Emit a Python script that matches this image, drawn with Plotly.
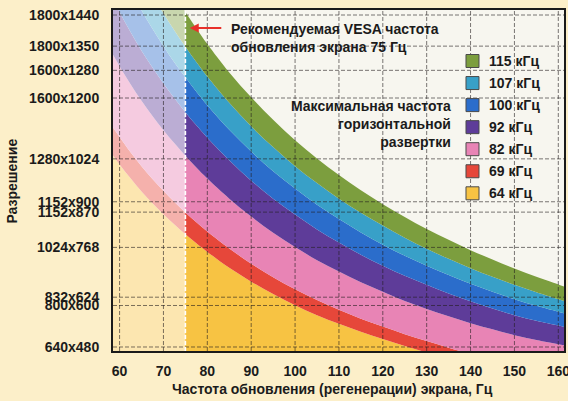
import plotly.graph_objects as go

# ---- data ----
refresh_hz = [58, 60, 62.5, 65, 67.5, 70, 72.5, 75, 77.5, 80, 85, 90, 95, 100, 105, 110,
              115, 120, 125, 130, 135, 140, 145, 150, 155, 160, 162]

lines_64 = [1043, 1008, 968, 930, 896, 864, 834, 806, 780, 755, 709, 669, 633, 601, 572, 547,
            524, 503, 483, 464, 446, 429, 414, 399, 385, 372, 367]
lines_69 = [1124, 1087, 1043, 1003, 966, 932, 899, 869, 841, 814, 765, 721, 682, 647, 616, 588,
            562, 539, 517, 497, 478, 460, 444, 428, 414, 401, 395]
lines_82 = [1336, 1292, 1240, 1192, 1148, 1107, 1069, 1033, 999, 967, 909, 857, 810, 769, 731, 698,
            667, 640, 613, 590, 569, 549, 531, 514, 500, 488, 483]
lines_92 = [1499, 1449, 1391, 1337, 1288, 1242, 1199, 1159, 1121, 1085, 1020, 961, 909, 863, 820, 782,
            747, 715, 686, 660, 635, 612, 591, 572, 556, 542, 536]
lines_100 = [1629, 1575, 1512, 1454, 1400, 1350, 1303, 1260, 1218, 1179, 1108, 1045, 988, 938, 891, 850,
             811, 776, 744, 715, 688, 663, 640, 618, 599, 582, 575]
lines_107 = [1743, 1685, 1618, 1556, 1498, 1445, 1395, 1348, 1304, 1262, 1186, 1118, 1058, 1003, 954, 909,
             868, 831, 796, 764, 735, 708, 683, 660, 638, 618, 610]
lines_115 = [1874, 1811, 1739, 1672, 1610, 1553, 1499, 1449, 1401, 1356, 1274, 1202, 1137, 1078, 1025, 977,
             933, 893, 856, 821, 790, 760, 733, 707, 683, 661, 652]

freq_labels = ["64 кГц", "69 кГц", "82 кГц", "92 кГц", "100 кГц", "107 кГц", "115 кГц"]
band_colors = ["#f7c343", "#e6473a", "#e884b5", "#5e3c99", "#2b6dcb", "#38a0c8", "#7c9e3e"]

x_ticks = [60, 70, 80, 90, 100, 110, 120, 130, 140, 150, 160]
y_tickvals = [480, 600, 624, 768, 870, 900, 1024, 1200, 1280, 1350, 1440]
y_ticktext = ["640x480", "800x600", "832x624", "1024x768", "1152x870", "1152x900",
              "1280x1024", "1600x1200", "1600x1280", "1800x1350", "1800x1440"]

vesa_hz = 75
x_range = [58.5, 161.3]
y_range = [468.4, 1454.5]

FONT = "Liberation Sans, Arial, sans-serif"
TXT = "#1b1b1b"
FS = 14

series = [lines_64, lines_69, lines_82, lines_92, lines_100, lines_107, lines_115]

fig = go.Figure()
for i, (ys, col, name) in enumerate(zip(series, band_colors, freq_labels)):
    fig.add_trace(go.Scatter(
        x=refresh_hz, y=ys, name=name, mode="lines",
        line=dict(width=0, shape="spline", color=col),
        fill="tozeroy" if i == 0 else "tonexty", fillcolor=col,
        showlegend=False, hoverinfo="skip"))

shapes = []
shapes.append(dict(type="rect", xref="x", yref="paper", x0=x_range[0], x1=vesa_hz, y0=0, y1=1,
                   fillcolor="white", opacity=0.58, line=dict(width=0), layer="above"))
grid_style = dict(color="rgba(35,30,30,0.6)", width=1, dash="4px,2px")
for v in x_ticks:
    shapes.append(dict(type="line", xref="x", yref="paper", x0=v, x1=v, y0=0, y1=1,
                       line=grid_style, layer="above"))
for v in y_tickvals:
    shapes.append(dict(type="line", xref="paper", yref="y", x0=0, x1=1, y0=v, y1=v,
                       line=grid_style, layer="above"))
shapes.append(dict(type="line", xref="x", yref="paper", x0=vesa_hz, x1=vesa_hz, y0=0, y1=1,
                   line=dict(color="white", width=1.6, dash="4px,2px"), layer="above"))

bold = dict(family=FONT, size=FS, color=TXT, weight="bold")

annotations = []
lx0, lx1, ltext = 0.7827, 0.8115, 0.829
for k, (name, col) in enumerate(zip(freq_labels[::-1], band_colors[::-1])):
    py = 61 + k * 22.05
    yc = (351 - py) / 341
    h = 6.5 / 341
    shapes.append(dict(type="rect", xref="paper", yref="paper", x0=lx0, x1=lx1,
                       y0=yc - h, y1=yc + h, fillcolor=col,
                       line=dict(color="#4a4a4a", width=1), layer="above"))
    annotations.append(dict(xref="paper", yref="paper", x=ltext, y=yc, text=name,
                            showarrow=False, xanchor="left", yanchor="middle", font=bold))

annotations.append(dict(xref="paper", yref="paper", x=0.257, y=0.918,
                        text="Рекомендуемая VESA частота<br>обновления экрана 75 Гц",
                        showarrow=False, xanchor="left", yanchor="middle", align="left",
                        font=bold))
annotations.append(dict(xref="x", yref="paper", x=76.0, y=0.947, text="", showarrow=True,
                        ax=33, ay=0, arrowcolor="#e8312a", arrowwidth=2, arrowhead=2,
                        arrowsize=0.9))
annotations.append(dict(xref="paper", yref="paper", x=0.754, y=0.666,
                        text="Максимальная частота<br>горизонтальной<br>развертки",
                        showarrow=False, xanchor="right", yanchor="middle", align="right",
                        font=bold))
annotations.append(dict(xref="paper", yref="paper", x=0.4856, y=-0.1115,
                        text="Частота обновления (регенерации) экрана, Гц",
                        showarrow=False, xanchor="center", yanchor="middle", font=bold))
annotations.append(dict(xref="paper", yref="paper", x=-0.2250, y=0.4985, text="Разрешение",
                        showarrow=False, textangle=-90, xanchor="center", yanchor="middle",
                        font=bold))

fig.update_layout(
    width=568, height=401,
    margin=dict(l=113, r=4, t=10, b=50),
    paper_bgcolor="#fcefc9", plot_bgcolor="#f7f6ef",
    shapes=shapes, annotations=annotations, showlegend=False,
    xaxis=dict(range=x_range, tickvals=x_ticks, showgrid=False, zeroline=False,
               showline=True, mirror=True, linecolor="#1a1a1a", linewidth=2, ticks="",
               ticklabelstandoff=6, layer="above traces", automargin=False,
               ticklabeloverflow="allow", tickfont=bold),
    yaxis=dict(range=y_range, tickvals=y_tickvals, ticktext=y_ticktext, showgrid=False,
               zeroline=False, showline=True, mirror=True, linecolor="#1a1a1a", linewidth=2,
               ticks="", ticklabelstandoff=9, layer="above traces", automargin=False,
               tickfont=bold),
)

fig.write_html("out.html", config={"displayModeBar": False},
               post_script="document.body.style.margin='0';")
